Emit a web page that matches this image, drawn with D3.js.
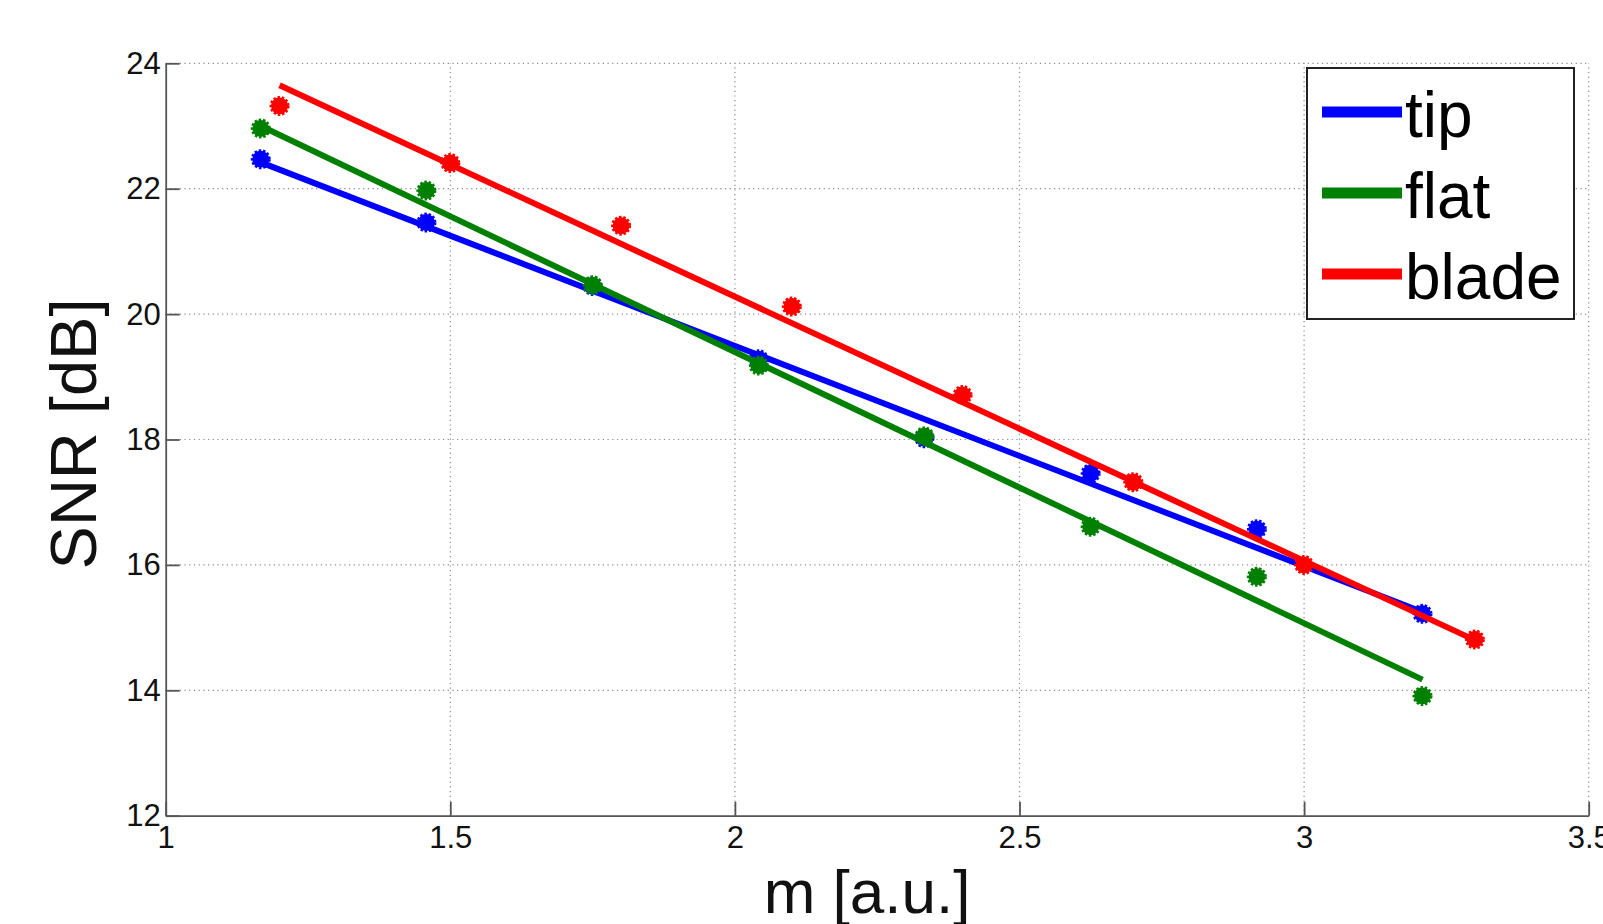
<!DOCTYPE html>
<html>
<head>
<meta charset="utf-8">
<script src="https://cdn.jsdelivr.net/npm/d3@7"></script>
<style>
  html, body { margin: 0; padding: 0; background: #fff; }
  svg { display: block; font-family: "Liberation Sans", Arial, sans-serif; }
</style>
</head>
<body>
<script>
// ---- data ----
const seriesNames = ["tip", "flat", "blade"];
const seriesColors = ["#0000ff", "#008000", "#ff0000"];
const tipX = [1.167, 1.458, 1.75, 2.042, 2.333, 2.625, 2.917, 3.208];
const tipY = [22.47, 21.46, 20.45, 19.28, 18.02, 17.46, 16.57, 15.22];
const flatX = [1.167, 1.458, 1.75, 2.042, 2.333, 2.625, 2.917, 3.208];
const flatY = [22.96, 21.97, 20.46, 19.18, 18.05, 16.61, 15.81, 13.91];
const bladeX = [1.2, 1.5, 1.8, 2.1, 2.4, 2.7, 3.0, 3.3];
const bladeY = [23.32, 22.41, 21.41, 20.12, 18.71, 17.32, 16.0, 14.81];
// fitted line endpoints
const tipFitX = [1.167, 3.208], tipFitY = [22.42, 15.25];
const flatFitX = [1.167, 3.208], flatFitY = [23.0, 14.17];
const bladeFitX = [1.2, 3.3], bladeFitY = [23.65, 14.8];
const xTicks = [1, 1.5, 2, 2.5, 3, 3.5];
const xTickLabels = ["1", "1.5", "2", "2.5", "3", "3.5"];
const yTicks = [12, 14, 16, 18, 20, 22, 24];
const yTickLabels = ["12", "14", "16", "18", "20", "22", "24"];
const xLabel = "m [a.u.]";
const yLabel = "SNR [dB]";

const W = 1603, H = 924;
const svg = d3.select("body").append("svg").attr("width", W).attr("height", H);

const x = d3.scaleLinear().domain([1, 3.5]).range([165.7, 1588.7]);
const y = d3.scaleLinear().domain([12, 24]).range([815.7, 63.3]);

// grid
const grid = svg.append("g");
grid.selectAll(".gx").data(xTicks.filter(t => t !== 1)).enter().append("line")
  .attr("x1", d => x(d)).attr("x2", d => x(d)).attr("y1", y(12)).attr("y2", y(24))
  .attr("stroke", "#8a8a8a").attr("stroke-width", 1.2).attr("stroke-dasharray", "1.2,3.5");
grid.selectAll(".gy").data(yTicks.filter(t => t !== 12)).enter().append("line")
  .attr("x1", x(1)).attr("x2", x(3.5)).attr("y1", d => y(d)).attr("y2", d => y(d))
  .attr("stroke", "#8a8a8a").attr("stroke-width", 1.2).attr("stroke-dasharray", "1.2,3.5");

// axes (ticks inward)
const axisColor = "#555";
const xAxis = d3.axisBottom(x).tickValues(xTicks).tickFormat((d, i) => xTickLabels[i])
  .tickSizeInner(-14).tickSizeOuter(0).tickPadding(12);
const gx = svg.append("g").attr("transform", `translate(0,${y(12)})`).call(xAxis);
gx.select(".domain").attr("stroke", axisColor).attr("stroke-width", 1.8);
gx.selectAll(".tick line").attr("stroke", axisColor).attr("stroke-width", 1.8);
gx.selectAll(".tick text").attr("font-size", 31).attr("fill", "#111")
  .attr("font-family", "Liberation Sans, Arial, sans-serif").attr("y", 10).attr("dy", "0.71em");

const yAxis = d3.axisLeft(y).tickValues(yTicks).tickFormat((d, i) => yTickLabels[i])
  .tickSizeInner(-14).tickSizeOuter(0).tickPadding(6);
const gy = svg.append("g").attr("transform", `translate(${x(1)},0)`).call(yAxis);
gy.select(".domain").attr("stroke", axisColor).attr("stroke-width", 1.8);
gy.selectAll(".tick line").attr("stroke", axisColor).attr("stroke-width", 1.8);
gy.selectAll(".tick text").attr("font-size", 31).attr("fill", "#111")
  .attr("font-family", "Liberation Sans, Arial, sans-serif").attr("x", -5);

// series
const series = [
  {xs: tipX, ys: tipY, fx: tipFitX, fy: tipFitY},
  {xs: flatX, ys: flatY, fx: flatFitX, fy: flatFitY},
  {xs: bladeX, ys: bladeY, fx: bladeFitX, fy: bladeFitY}
];
const line = d3.line().x(d => x(d[0])).y(d => y(d[1]));
series.forEach((s, i) => {
  const col = seriesColors[i];
  const pts = s.xs.map((v, j) => [v, s.ys[j]]);
  const g = svg.append("g");
  g.selectAll("circle").data(pts).enter().append("circle")
    .attr("cx", d => x(d[0])).attr("cy", d => y(d[1])).attr("r", 8.5)
    .attr("fill", col).attr("stroke", col).attr("stroke-width", 3)
    .attr("stroke-dasharray", "2.4,1.8");
  g.append("path").datum(s.fx.map((v, j) => [v, s.fy[j]]))
    .attr("d", line).attr("fill", "none").attr("stroke", col).attr("stroke-width", 6);
});

// axis labels
svg.append("text").attr("x", 867).attr("y", 913).attr("text-anchor", "middle")
  .attr("font-size", 62).attr("fill", "#111").text(xLabel);
svg.append("text").attr("transform", "translate(96,434) rotate(-90)")
  .attr("text-anchor", "middle").attr("font-size", 65).attr("fill", "#111").text(yLabel);

// legend
const leg = svg.append("g");
leg.append("rect").attr("x", 1307).attr("y", 68).attr("width", 267).attr("height", 251)
  .attr("fill", "#fff").attr("stroke", "#222").attr("stroke-width", 2);
const legBase = [137, 218, 299];
seriesNames.forEach((n, i) => {
  leg.append("line").attr("x1", 1322).attr("x2", 1402)
    .attr("y1", legBase[i] - 25).attr("y2", legBase[i] - 25)
    .attr("stroke", seriesColors[i]).attr("stroke-width", 11);
  leg.append("text").attr("x", 1405).attr("y", legBase[i])
    .attr("font-size", 64).attr("fill", "#000").text(n);
});
</script>
</body>
</html>
